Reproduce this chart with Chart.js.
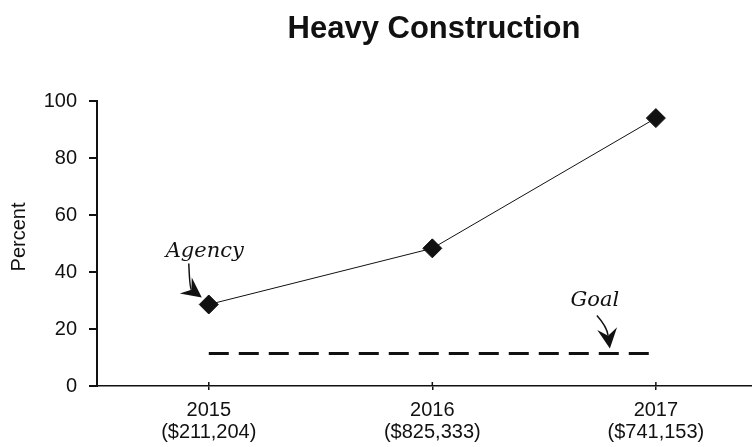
<!DOCTYPE html>
<html>
<head>
<meta charset="utf-8">
<script src="https://cdn.jsdelivr.net/npm/chart.js@4"></script>
<style>
  html, body { margin: 0; padding: 0; background: #ffffff; overflow: hidden; }
  #wrap { width: 752px; height: 447px; position: relative; overflow: hidden; }
  canvas { display: block; }
</style>
</head>
<body>
<div id="wrap"><canvas id="c" width="752" height="447"></canvas></div>
<script>
// ---- data ----
const years = [2015, 2016, 2017];
const amounts = ['($211,204)', '($825,333)', '($741,153)'];
const agency = [28.6, 48.3, 94.0];
const goal = [11.4, 11.4, 11.4];
const yTicks = [0, 20, 40, 60, 80, 100];
const titleText = 'Heavy Construction';
const yTitle = 'Percent';
const agencyLabel = 'Agency';
const goalLabel = 'Goal';

const INK = '#111111';

function drawArrow(ctx, sx, sy, cx, cy, tx, ty) {
  const dx = tx - cx, dy = ty - cy;
  const len = Math.hypot(dx, dy);
  const ux = dx / len, uy = dy / len;
  const px = -uy, py = ux;
  const headLen = 20, headW = 10, notch = 7;
  const bx = tx - ux * headLen, by = ty - uy * headLen;
  const nx = tx - ux * (headLen - notch), ny = ty - uy * (headLen - notch);
  ctx.save();
  ctx.strokeStyle = INK;
  ctx.fillStyle = INK;
  ctx.lineWidth = 1.5;
  ctx.beginPath();
  ctx.moveTo(sx, sy);
  ctx.quadraticCurveTo(cx, cy, nx, ny);
  ctx.stroke();
  ctx.beginPath();
  ctx.moveTo(tx, ty);
  ctx.lineTo(bx + px * headW, by + py * headW);
  ctx.lineTo(nx, ny);
  ctx.lineTo(bx - px * headW, by - py * headW);
  ctx.closePath();
  ctx.fill();
  ctx.restore();
}

const decorPlugin = {
  id: 'decor',
  afterDraw(chart) {
    const ctx = chart.ctx;
    const xs = chart.scales.x, ys = chart.scales.y;
    ctx.save();
    // chart title
    ctx.fillStyle = INK;
    ctx.font = 'bold 31px "Liberation Sans", Arial, sans-serif';
    ctx.textAlign = 'center';
    ctx.textBaseline = 'alphabetic';
    ctx.fillText(titleText, 434, 38);

    // y axis title
    ctx.save();
    ctx.translate(19, 237);
    ctx.rotate(-Math.PI / 2);
    ctx.font = '20px "Liberation Sans", Arial, sans-serif';
    ctx.textAlign = 'center';
    ctx.textBaseline = 'middle';
    ctx.fillText(yTitle, 0, 0);
    ctx.restore();

    // inner halves of the x tick marks
    ctx.strokeStyle = INK;
    ctx.lineWidth = 1.5;
    years.forEach(v => {
      const x = xs.getPixelForValue(v);
      ctx.beginPath();
      ctx.moveTo(x, ys.bottom);
      ctx.lineTo(x, ys.bottom - 4);
      ctx.stroke();
    });

    // Agency annotation, anchored to first agency point
    const ax = xs.getPixelForValue(years[0]);
    const ay = ys.getPixelForValue(agency[0]);
    ctx.font = 'italic 21px "DejaVu Serif", serif';
    ctx.fillStyle = INK;
    ctx.textAlign = 'center';
    ctx.textBaseline = 'alphabetic';
    ctx.fillText(agencyLabel, ax - 4, ay - 47);
    drawArrow(ctx, ax - 20, ay - 41, ax - 19, ay - 16, ax - 7, ay - 7);

    // Goal annotation, anchored to last goal point
    const gx = xs.getPixelForValue(years[2]);
    const gy = ys.getPixelForValue(goal[2]);
    ctx.fillText(goalLabel, gx - 61, gy - 48);
    drawArrow(ctx, gx - 59, gy - 38, gx - 49, gy - 27, gx - 46, gy - 5);
    ctx.restore();
  }
};

new Chart(document.getElementById('c'), {
  type: 'line',
  data: {
    datasets: [
      {
        label: 'Agency',
        data: years.map((y, i) => ({ x: y, y: agency[i] })),
        borderColor: INK,
        backgroundColor: INK,
        borderWidth: 1,
        pointStyle: 'rectRot',
        pointRadius: 9.5,
        pointBorderWidth: 1,
        pointBackgroundColor: INK,
        pointBorderColor: INK,
        tension: 0
      },
      {
        label: 'Goal',
        data: years.map((y, i) => ({ x: y, y: goal[i] })),
        borderColor: INK,
        borderWidth: 3,
        borderDash: [20, 10],
        pointRadius: 0,
        tension: 0
      }
    ]
  },
  options: {
    responsive: false,
    animation: false,
    events: [],
    layout: { autoPadding: false, padding: { top: 101, left: 0, right: 0, bottom: 0 } },
    plugins: {
      legend: { display: false },
      tooltip: { enabled: false },
      title: { display: false }
    },
    scales: {
      x: {
        type: 'linear',
        min: 2014.5,
        max: 2017.43,
        afterBuildTicks: s => { s.ticks = years.map(v => ({ value: v })); },
        afterFit: s => { s.height = 61; s.paddingLeft = 0; s.paddingRight = 0; },
        border: { display: true, color: INK, width: 1.5 },
        grid: { display: true, drawOnChartArea: false, drawTicks: true, tickLength: 4, color: INK, lineWidth: 1.5 },
        ticks: {
          color: INK,
          font: { family: '"Liberation Sans", Arial, sans-serif', size: 20, lineHeight: 1.1 },
          padding: 9,
          maxRotation: 0,
          autoSkip: false,
          callback: (v) => {
            const i = years.indexOf(v);
            return i >= 0 ? [String(years[i]), amounts[i]] : '';
          }
        }
      },
      y: {
        min: 0,
        max: 100,
        afterBuildTicks: s => { s.ticks = yTicks.map(v => ({ value: v })); },
        afterFit: s => { s.width = 97; },
        border: { display: true, color: INK, width: 2 },
        grid: { display: true, drawOnChartArea: false, drawTicks: true, tickLength: 8, color: INK, lineWidth: 2 },
        ticks: {
          color: INK,
          font: { family: '"Liberation Sans", Arial, sans-serif', size: 20 },
          padding: 12
        }
      }
    }
  },
  plugins: [decorPlugin]
});
</script>
</body>
</html>
